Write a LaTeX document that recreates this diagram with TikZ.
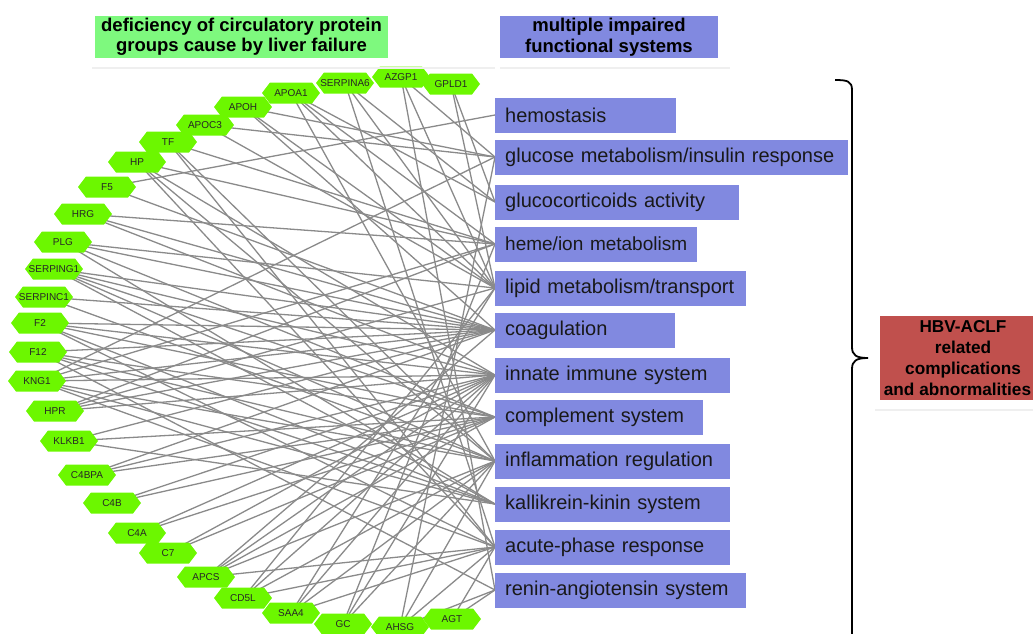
\documentclass[tikz,border=0pt]{standalone}
\usepackage{fontspec}
\setmainfont{Liberation Sans}
\definecolor{hexgreen}{HTML}{6CF700}
\definecolor{hdrgreen}{HTML}{7EF97E}
\definecolor{sysblue}{HTML}{8189E0}
\definecolor{redbox}{HTML}{C0504D}
\definecolor{edgegray}{HTML}{8A8A8A}
\definecolor{faint}{HTML}{EFEFEF}
\pgfdeclarelayer{edgelayer}
\pgfdeclarelayer{hexlayer}
\pgfsetlayers{edgelayer,hexlayer,main}
\newcommand\hexn[4]{%
  \begin{pgfonlayer}{hexlayer}
    \fill[hexfill,shift={(#2,#3)}] (-29,0) -- (-21,-10.5) -- (21,-10.5) -- (29,0) -- (21,10.5) -- (-21,10.5) -- cycle;
  \end{pgfonlayer}
  \node[hexlabel] (#1) at (#2,#3) {#4};
}
\newcommand\sysn[4]{%
  \node[sysbox, text width=#3pt] (#1) at (495,#2) {\mbox{#4}};
}
\begin{document}
\begin{tikzpicture}[x=1pt,y=-1pt,
  hexfill/.style={fill=hexgreen},
  hexlabel/.style={inner sep=0pt, font=\fontsize{10}{11}\selectfont, text=black!85},
  sysbox/.style={fill=sysblue, anchor=west, minimum height=35pt, inner xsep=10pt, inner ysep=0pt, align=left, font=\fontsize{20}{22}\selectfont, text=black!90},
  header/.style={minimum height=42pt, inner sep=0pt, align=center, font=\bfseries\fontsize{18.5}{20.5}\selectfont},
  edge/.style={draw=edgegray, line width=1.3pt},
  bracestyle/.style={draw=black, line width=1.8pt},
  shadowline/.style={draw=faint, line width=1.2pt}]
\useasboundingbox (0,0) rectangle (1033,633);

% headers
\node[header, fill=hdrgreen, minimum width=293pt] (hdrL) at (241.5,37) {deficiency of circulatory protein\\groups cause by liver failure};
\node[header, fill=sysblue, minimum width=218pt] (hdrR) at (609,37) {multiple impaired\\functional systems};
\draw[shadowline] (92,68) -- (495,68);
\draw[shadowline] (500,68) -- (730,68);

% protein hexagons
\hexn{GPLD1}{451}{84}{GPLD1}
\hexn{AZGP1}{401}{77}{AZGP1}
\hexn{SERPINA6}{345}{83}{SERPINA6}
\hexn{APOA1}{291}{93}{APOA1}
\hexn{APOH}{243}{107}{APOH}
\hexn{APOC3}{205}{125}{APOC3}
\hexn{TF}{168}{142}{TF}
\hexn{HP}{137}{162}{HP}
\hexn{F5}{107}{187}{F5}
\hexn{HRG}{83}{214}{HRG}
\hexn{PLG}{63}{242}{PLG}
\hexn{SERPING1}{54}{269}{SERPING1}
\hexn{SERPINC1}{44}{297}{SERPINC1}
\hexn{F2}{40}{323}{F2}
\hexn{F12}{38}{352}{F12}
\hexn{KNG1}{37}{381}{KNG1}
\hexn{HPR}{55}{411}{HPR}
\hexn{KLKB1}{69}{441}{KLKB1}
\hexn{C4BPA}{87}{475}{C4BPA}
\hexn{C4B}{112}{503}{C4B}
\hexn{C4A}{137}{533}{C4A}
\hexn{C7}{168}{553}{C7}
\hexn{APCS}{206}{577}{APCS}
\hexn{CD5L}{243}{598}{CD5L}
\hexn{SAA4}{291}{613}{SAA4}
\hexn{GC}{343}{624}{GC}
\hexn{AHSG}{400}{627}{AHSG}
\hexn{AGT}{452}{619}{AGT}

% functional systems
\sysn{hs}{115}{161}{hemostasis}
\sysn{gm}{157}{333}{glucose metabolism/insulin response}
\sysn{gc}{202}{224}{glucocorticoids activity}
\sysn{hm}{244}{182}{\fontsize{19}{22}\selectfont heme/ion metabolism}
\sysn{lp}{288}{231}{lipid metabolism/transport}
\sysn{cg}{330}{160}{coagulation}
\sysn{in}{375}{215}{innate immune system}
\sysn{cm}{417}{188}{complement system}
\sysn{il}{461}{215}{inflammation regulation}
\sysn{kk}{504}{215}{kallikrein-kinin system}
\sysn{ap}{547}{215}{acute-phase response}
\sysn{ra}{590}{231}{renin-angiotensin system}

% edges
\begin{pgfonlayer}{edgelayer}
\foreach \a/\b in {F5/hs, F5/cg, GPLD1/gc, GPLD1/lp, AZGP1/gm, AZGP1/lp, AZGP1/ra,
  SERPINA6/gc, SERPINA6/lp, SERPINA6/ap, APOA1/gc, APOA1/lp, APOA1/hm, APOA1/il,
  APOH/gm, APOH/lp, APOH/cg, APOC3/lp, APOC3/gm, TF/hm, TF/il, TF/ap,
  HP/hm, HP/in, HP/ap, HP/il, HRG/hm, HRG/cg, HRG/in, PLG/cg, PLG/kk, PLG/cm, PLG/lp,
  SERPING1/cg, SERPING1/cm, SERPING1/kk, SERPING1/il, SERPING1/in, SERPINC1/cg, SERPINC1/il,
  F2/cg, F2/in, F2/cm, F2/ap, F2/kk, F12/cg, F12/kk, F12/cm, F12/il, F12/ra,
  KNG1/cg, KNG1/kk, KNG1/il, KNG1/in, KNG1/gm, KNG1/hm, KNG1/ap,
  HPR/hm, HPR/in, HPR/cg, HPR/lp, KLKB1/kk, KLKB1/cg, KLKB1/cm,
  C4BPA/cm, C4BPA/cg, C4BPA/in, C4B/cm, C4B/in, C4A/cm, C4A/in, C7/cm, C7/in,
  APCS/in, APCS/cm, APCS/il, APCS/ap, APCS/cg, CD5L/in, CD5L/lp, CD5L/ap, CD5L/il,
  SAA4/in, SAA4/ap, SAA4/lp, SAA4/il, GC/hm, GC/il, GC/in,
  AHSG/gm, AHSG/ap, AHSG/il, AHSG/ra, AGT/ra, AGT/ap}
  \draw[edge] (\a.center) -- (\b.west);
\end{pgfonlayer}

% brace
\draw[bracestyle] (835,80) .. controls (847,80) and (852,81) .. (852,90)
  -- (852,347) .. controls (852,355) and (856,358) .. (868,358)
  .. controls (856,358) and (852,361) .. (852,369) -- (852,640);

% result box
\node[fill=redbox, minimum width=166pt, minimum height=84pt, inner sep=0pt, align=center,
  font=\bfseries\fontsize{17.2}{21}\selectfont] (res) at (963,358)
  {HBV-ACLF\\related\\complications\\\hspace*{-11pt}and abnormalities};
\draw[shadowline] (875,410) -- (1040,410);
\end{tikzpicture}
\end{document}
